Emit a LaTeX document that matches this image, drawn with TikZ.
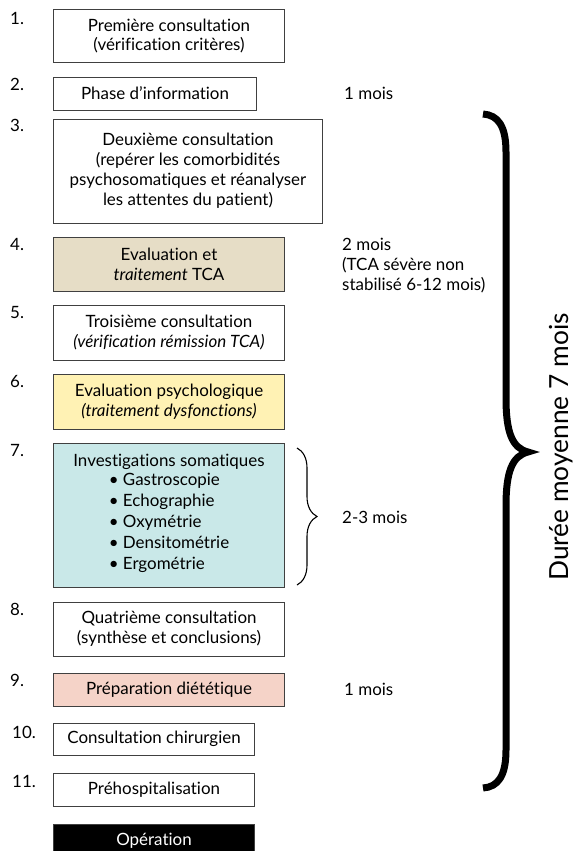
\documentclass[tikz,border=0pt]{standalone}
\usepackage{fontspec}
\setmainfont{Lato}[Ligatures={TeX,NoCommon}]
\usepackage{xcolor}
\usetikzlibrary{decorations.pathreplacing}

\definecolor{tcabeige}{HTML}{E6DDC6}
\definecolor{psyyellow}{HTML}{FFF2B4}
\definecolor{somacyan}{HTML}{C9E8E8}
\definecolor{dietpink}{HTML}{F5D3C8}

\begin{document}
\begin{tikzpicture}[
  x=1bp, y=-1bp,
  font=\fontsize{17}{20}\selectfont,
  box/.style={draw=black!75, line width=1bp, align=center, fill=white, inner sep=2pt, minimum width=230bp},
  num/.style={anchor=north west, inner sep=0pt},
  dur/.style={anchor=west, align=left, inner sep=0pt},
  brc/.style={decorate, decoration={brace, amplitude=20bp}, line width=1.1bp}
]
\useasboundingbox (0,0) rectangle (585,851);
% steps
\node[box, minimum height=52bp] (b1) at (169,36) {Première consultation\\(vérification critères)};
\node[box, minimum width=202bp, minimum height=33bp] (b2) at (155,93.5) {Phase d’information};
\node[box, minimum width=268bp, minimum height=104bp] (b3) at (188,171) {Deuxième consultation\\(repérer les comorbidités\\psychosomatiques et réanalyser\\les attentes du patient)};
\node[box, minimum height=54bp, fill=tcabeige] (b4) at (169,264) {Evaluation et\\\textit{traitement} TCA};
\node[box, minimum height=55bp] (b5) at (169,332.5) {Troisième consultation\\\textit{(vérification rémission TCA)}};
\node[box, minimum height=55bp, fill=psyyellow] (b6) at (169,401.5) {Evaluation psychologique\\\textit{(traitement dysfonctions)}};
\node[box, minimum height=144bp, fill=somacyan] (b7) at (169,515) {Investigations somatiques\\[0.5bp]\renewcommand\arraystretch{1.05}\begin{tabular}{@{}l@{}}\textbullet\ Gastroscopie\\\textbullet\ Echographie\\\textbullet\ Oxymétrie\\\textbullet\ Densitométrie\\\textbullet\ Ergométrie\end{tabular}};
\node[box, minimum height=54bp] (b8) at (169,629) {Quatrième consultation\\(synthèse et conclusions)};
\node[box, minimum height=33bp, fill=dietpink] (b9) at (169,689.5) {Préparation diététique};
\node[box, minimum width=200bp, minimum height=32bp] (b10) at (154,739) {Consultation chirurgien};
\node[box, minimum width=200bp, minimum height=33bp] (b11) at (154,789.5) {Préhospitalisation};
\node[box, minimum width=200bp, minimum height=33bp, fill=black, text=white] (op) at (154,840.5) {Opération};
% numbers
\node[num] (n1) at (10,12) {1.};
\node[num] (n2) at (10,78) {2.};
\node[num] (n3) at (10,119) {3.};
\node[num] (n4) at (10,238) {4.};
\node[num] (n5) at (10,306) {5.};
\node[num] (n6) at (10,375) {6.};
\node[num] (n7) at (10,444) {7.};
\node[num] (n8) at (10,603) {8.};
\node[num] (n9) at (10,674) {9.};
\node[num] (n10) at (12,726) {10.};
\node[num] (n11) at (12,775) {11.};
% durations
\node[dur] (d1) at (344,93) {1 mois};
\node[dur, anchor=north west] (d2) at (342,238) {2 mois\\(TCA sévère non\\stabilisé 6-12 mois)};
\node[dur] (d3) at (342,517) {2-3 mois};
\node[dur] (d4) at (344,689) {1 mois};
\node[rotate=90, font=\fontsize{26.4}{30}\selectfont] (total) at (561,447) {Durée moyenne 7 mois};
% braces
\coordinate (s1) at (297,448);
\coordinate (s2) at (297,585);
\draw[brc] (s1) -- (s2);
\coordinate (g1) at (483,114);
\coordinate (gtip) at (528,452);
\coordinate (g2) at (483,788);
\draw[line width=7bp] (g1) .. controls (498,115) and (506,126) .. (506,152) -- (506,398)
  .. controls (506,432) and (512,448) .. (gtip)
  .. controls (512,456) and (506,472) .. (506,506) -- (506,750)
  .. controls (506,776) and (498,787) .. (g2);
\end{tikzpicture}
\end{document}
